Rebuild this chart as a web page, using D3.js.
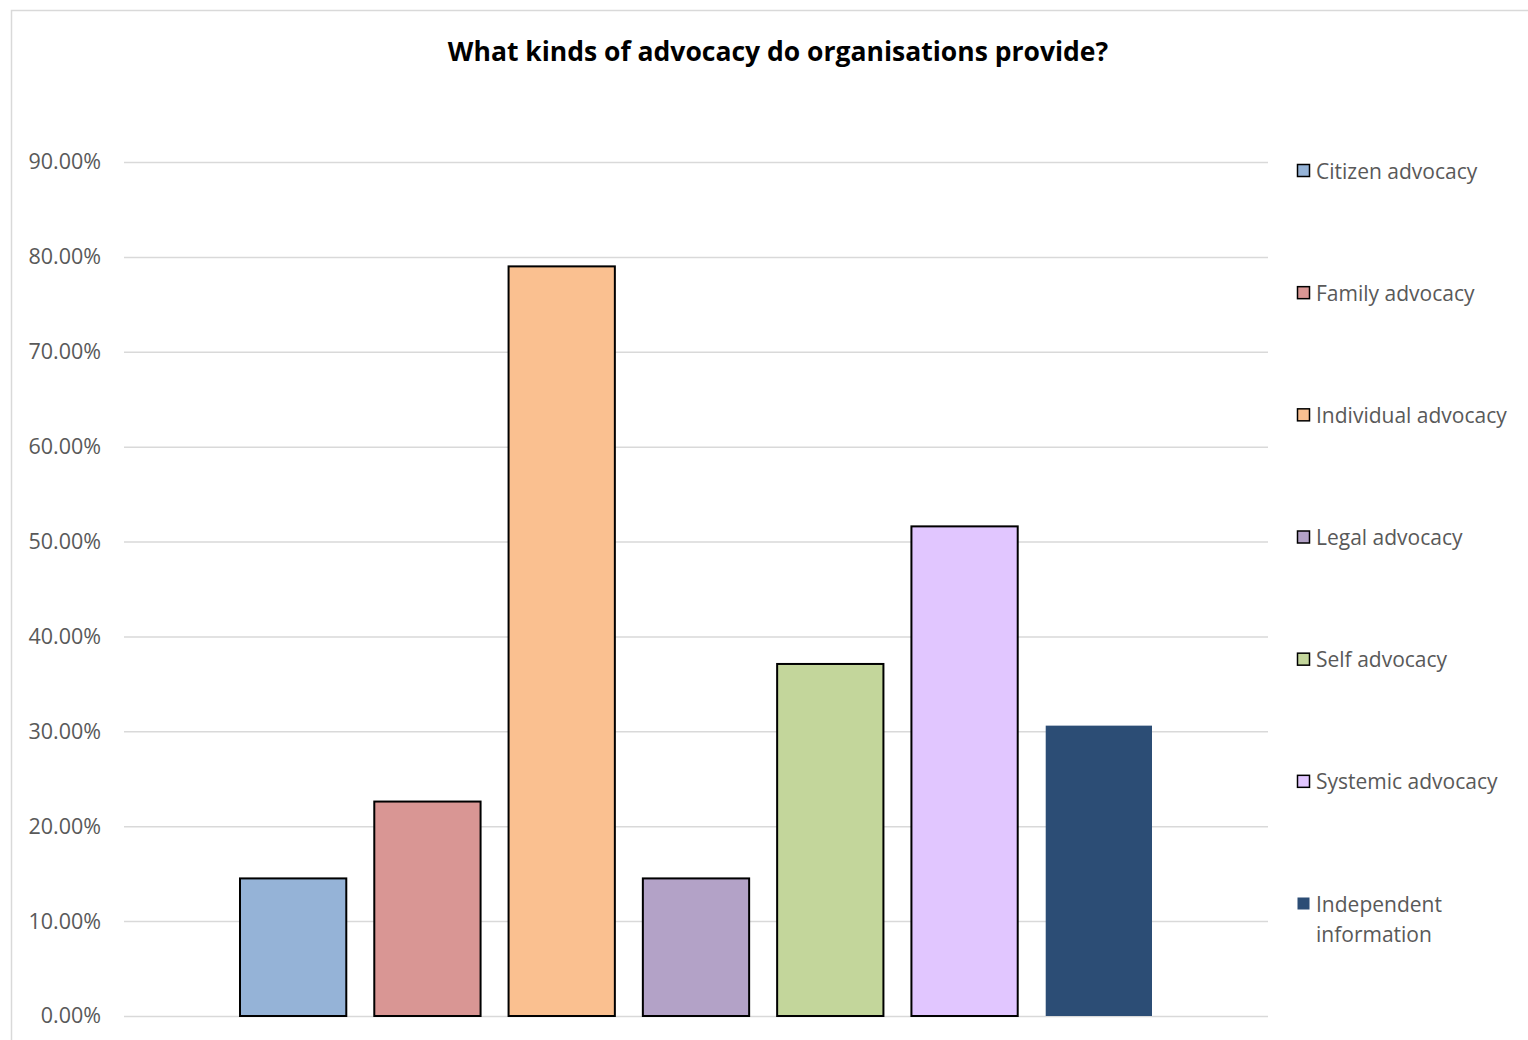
<!DOCTYPE html>
<html><head><meta charset="utf-8">
<script src="https://cdn.jsdelivr.net/npm/d3@7"></script>
<style>body{margin:0;background:#fff;}svg{display:block;}</style>
</head><body>
<script>
const title = "What kinds of advocacy do organisations provide?";
const series = ["Citizen advocacy","Family advocacy","Individual advocacy","Legal advocacy","Self advocacy","Systemic advocacy","Independent information"];
const legendLines = [["Citizen advocacy"],["Family advocacy"],["Individual advocacy"],["Legal advocacy"],["Self advocacy"],["Systemic advocacy"],["Independent","information"]];
const values = [0.145, 0.226, 0.790, 0.145, 0.371, 0.516, 0.306];
const colors = ["#95B3D7","#D99694","#FAC090","#B3A2C7","#C3D69B","#E1C6FF","#2C4D75"];
const outlined = [true,true,true,true,true,true,false];
const ticks = [0,0.1,0.2,0.3,0.4,0.5,0.6,0.7,0.8,0.9];

const W=1528,H=1040;
const svg=d3.select("body").append("svg").attr("width",W).attr("height",H);
const font="Open Sans, sans-serif";

svg.append("rect").attr("x",11.5).attr("y",10.5).attr("width",W+10).attr("height",H+10)
  .attr("fill","#fff").attr("stroke","#d9d9d9").attr("stroke-width",1.5);

svg.append("text").attr("x",778).attr("y",61).attr("text-anchor","middle")
  .attr("font-family",font).attr("font-weight","bold").attr("font-size",26.5).attr("fill","#000").text(title);

const y=d3.scaleLinear().domain([0,0.9]).range([1016,162]);
const x=d3.scaleBand().domain(series).range([226,1166]).paddingInner(0.2085).paddingOuter(0.10425);

const yAxis=d3.axisLeft(y).tickValues(ticks).tickFormat(d3.format(".2%")).tickSize(-(1268-124)).tickPadding(23);
const ga=svg.append("g").attr("transform","translate(124,0)").call(yAxis);
ga.select(".domain").remove();
ga.selectAll(".tick line").attr("stroke","#d9d9d9").attr("stroke-width",1.5);
ga.selectAll(".tick text").attr("font-family",font).attr("font-size",21.5).attr("fill","#595959");

svg.append("g").selectAll("rect").data(series).join("rect")
  .attr("x",d=>x(d)).attr("width",x.bandwidth())
  .attr("y",(d,i)=>y(values[i])).attr("height",(d,i)=>y(0)-y(values[i]))
  .attr("fill",(d,i)=>colors[i])
  .attr("stroke",(d,i)=>outlined[i]?"#000":"none").attr("stroke-width",2);

const lg=svg.append("g");
const ly=d3.scalePoint().domain(series).range([171,904]);
series.forEach((s,i)=>{
  const yy=ly(s);
  lg.append("rect").attr("x",1297.5).attr("y",yy-6.5).attr("width",12).attr("height",12)
    .attr("fill",colors[i]).attr("stroke",outlined[i]?"#000":"none").attr("stroke-width",1.5);
  const t=lg.append("text").attr("x",1316).attr("y",yy+7.5).attr("font-family",font).attr("font-size",21).attr("fill","#595959");
  legendLines[i].forEach((ln,j)=>{
    t.append("tspan").attr("x",1316).attr("dy",j===0?0:30).text(ln);
  });
});
</script>
</body></html>
